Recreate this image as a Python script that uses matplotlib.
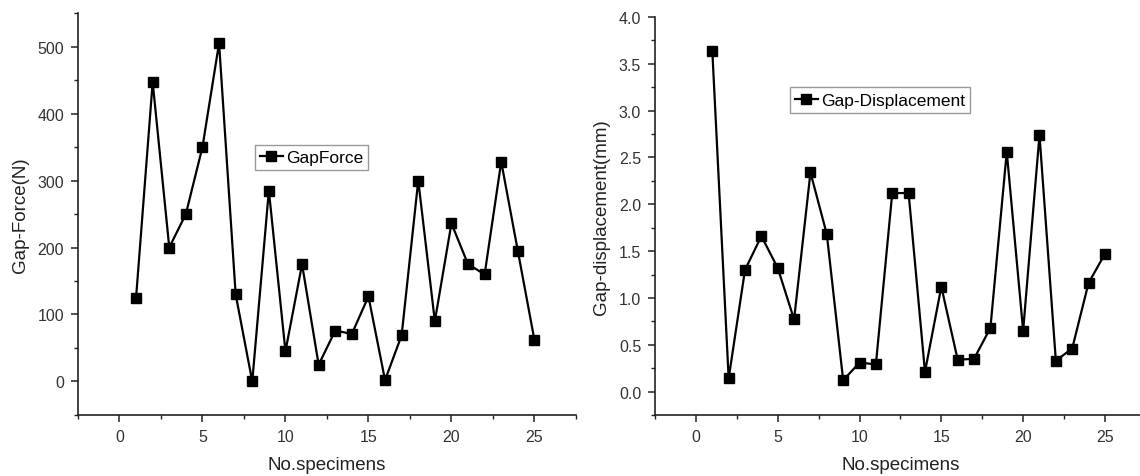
import matplotlib
matplotlib.use('Agg')
import matplotlib.pyplot as plt
from matplotlib.ticker import MultipleLocator, FormatStrFormatter

plt.rcParams['font.family'] = ['Liberation Sans', 'DejaVu Sans']

specimens = list(range(1, 26))
gap_force = [125, 447, 200, 250, 350, 505, 130, 0, 285, 45, 175, 25, 76, 71,
             127, 2, 69, 300, 90, 236, 175, 160, 328, 195, 62]
gap_disp = [3.64, 0.14, 1.30, 1.66, 1.32, 0.77, 2.34, 1.68, 0.12, 0.31, 0.29,
            2.12, 2.12, 0.21, 1.12, 0.34, 0.35, 0.68, 2.56, 0.65, 2.74, 0.33,
            0.46, 1.16, 1.47]

fig = plt.figure(figsize=(11.4, 4.77), dpi=100)
ax1 = fig.add_axes([0.0684, 0.1279, 0.4368, 0.8427])
ax2 = fig.add_axes([0.5746, 0.1279, 0.4305, 0.8344])


def style(ax):
    for s in ['top', 'right']:
        ax.spines[s].set_visible(False)
    for s in ['left', 'bottom']:
        ax.spines[s].set_linewidth(1.2)
        ax.spines[s].set_color('#222222')
    ax.xaxis.set_major_locator(MultipleLocator(5))
    ax.xaxis.set_minor_locator(MultipleLocator(2.5))
    ax.tick_params(which='major', direction='out', length=5, width=1.1,
                   labelsize=11.5, colors='#222222', labelcolor='#333333',
                   pad=5)
    ax.tick_params(which='minor', direction='out', length=3, width=1.0,
                   colors='#222222')
    ax.set_xlim(-2.5, 27.5)
    ax.set_xlabel('No.specimens', fontsize=13.5, color='#222222', labelpad=9)


def add_legend(ax, anchor):
    ax.legend(loc='upper left', bbox_to_anchor=anchor, fontsize=12.5,
              fancybox=False, edgecolor='#999999', framealpha=1,
              handlelength=1.3, handletextpad=0.2, borderpad=0.3,
              borderaxespad=0)


ax1.plot(specimens, gap_force, '-s', color='black', lw=1.6, ms=7,
         label='GapForce')
style(ax1)
ax1.set_ylim(-50, 550)
ax1.yaxis.set_major_locator(MultipleLocator(100))
ax1.yaxis.set_minor_locator(MultipleLocator(50))
ax1.set_ylabel('Gap-Force(N)', fontsize=13.5, color='#222222', labelpad=6)
add_legend(ax1, (0.355, 0.672))

ax2.plot(specimens, gap_disp, '-s', color='black', lw=1.6, ms=7,
         label='Gap-Displacement')
style(ax2)
ax2.set_ylim(-0.25, 4.0)
ax2.yaxis.set_major_locator(MultipleLocator(0.5))
ax2.yaxis.set_minor_locator(MultipleLocator(0.25))
ax2.yaxis.set_major_formatter(FormatStrFormatter('%.1f'))
ax2.set_ylabel('Gap-displacement(mm)', fontsize=13.5, color='#222222',
               labelpad=6)
add_legend(ax2, (0.275, 0.823))

fig.savefig('out.png', dpi=100)
